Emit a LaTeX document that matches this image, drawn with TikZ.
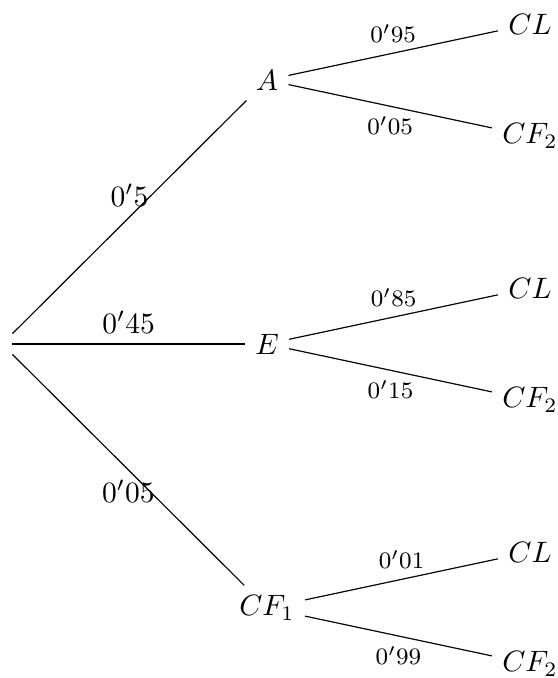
\documentclass[tikz,border=0pt]{standalone}
\begin{document}
\begin{tikzpicture}[x=0.339pt,y=-0.339pt,
  prob/.style={font=\footnotesize},
  branch/.style={draw=black, line width=0.4pt}]
\useasboundingbox (0,0) rectangle (558,678);
% root and first level
\node (r) at (2,344) {};
\node (A) at (267,80) {$A$};
\node (E) at (267,344) {$E$};
\node (F) at (267,608) {$CF_1$};
\draw[branch] (r) -- node[above] {$0'5$} (A);
\draw[branch] (r) -- node[above] {$0'45$} (E);
\draw[branch] (r) -- node[below] {$0'05$} (F);
% second level
\node (A1) at (530,24) {$CL$};
\node (A2) at (530,136) {$CF_2$};
\node (E1) at (530,288) {$CL$};
\node (E2) at (530,400) {$CF_2$};
\node (F1) at (530,552) {$CL$};
\node (F2) at (530,664) {$CF_2$};
\draw[branch] (A) -- node[above,prob] {$0'95$} (A1);
\draw[branch] (A) -- node[below,prob] {$0'05$} (A2);
\draw[branch] (E) -- node[above,prob] {$0'85$} (E1);
\draw[branch] (E) -- node[below,prob] {$0'15$} (E2);
\draw[branch] (F) -- node[above,prob] {$0'01$} (F1);
\draw[branch] (F) -- node[below,prob] {$0'99$} (F2);
\end{tikzpicture}
\end{document}
